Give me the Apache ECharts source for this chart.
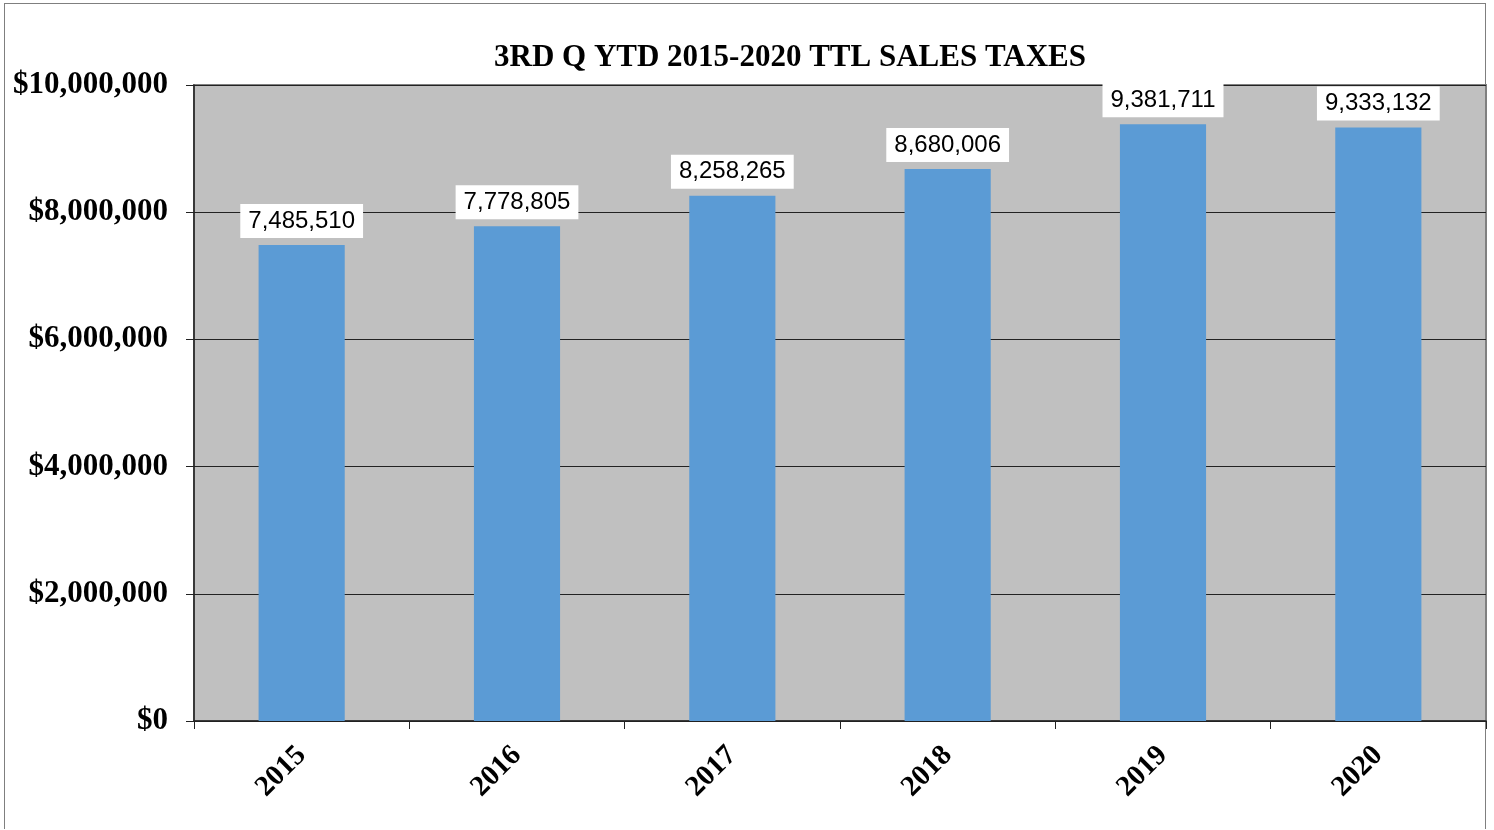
<!DOCTYPE html>
<html>
<head>
<meta charset="utf-8">
<script src="https://cdn.jsdelivr.net/npm/echarts@6/dist/echarts.min.js"></script>
<style>
  html, body { margin: 0; padding: 0; background: #fff; }
  #frame { position: absolute; left: 4px; top: 3px; width: 1482px; height: 826px; border: 1px solid #7f7f7f; border-bottom: none; box-sizing: border-box; }
  #chart { position: absolute; left: 0; top: 0; width: 1494px; height: 830px; }
</style>
</head>
<body>
<div id="frame"></div>
<div id="chart"></div>
<script>
// 3rd quarter YTD total sales taxes, 2015-2020
const years = ["2015", "2016", "2017", "2018", "2019", "2020"];
const taxes = [7485510, 7778805, 8258265, 8680006, 9381711, 9333132];
const yTicks = { min: 0, max: 10000000, step: 2000000 };

const serif = "'Liberation Serif', 'DejaVu Serif', serif";
const money = (v) => "$" + v.toLocaleString("en-US");

const chart = echarts.init(document.getElementById("chart"));
chart.setOption({
  animation: false,
  title: {
    text: "3RD Q YTD 2015-2020 TTL SALES TAXES",
    left: 785, top: 37, textAlign: "center",
    textStyle: { fontFamily: serif, fontWeight: "bold", fontSize: 31, color: "#000" },
  },
  grid: {
    left: 194, right: 8, top: 85, bottom: 109,
    show: true, backgroundColor: "#c0c0c0", borderColor: "#808080", borderWidth: 2,
  },
  xAxis: {
    type: "category", data: years,
    axisLine: { lineStyle: { color: "#222", width: 1.5 } },
    axisTick: { show: true, length: 8, lineStyle: { color: "#222" } },
    axisLabel: { rotate: 45, margin: 30, fontFamily: serif, fontWeight: "bold", fontSize: 29, color: "#000" },
  },
  yAxis: {
    type: "value", min: yTicks.min, max: yTicks.max, interval: yTicks.step,
    axisLine: { show: true, lineStyle: { color: "#222", width: 1.5 } },
    axisTick: { show: true, length: 8, lineStyle: { color: "#222" } },
    axisLabel: { margin: 26, formatter: money, fontFamily: serif, fontWeight: "bold", fontSize: 31, color: "#000" },
    splitLine: { lineStyle: { color: "#222", width: 1 } },
  },
  series: [{
    type: "bar", data: taxes, barWidth: "40%",
    itemStyle: { color: "#5b9bd5" },
    label: {
      show: true, position: "top", distance: 7,
      formatter: (p) => p.value.toLocaleString("en-US"),
      fontFamily: "'Liberation Sans', Arial, sans-serif", fontSize: 24, color: "#000",
      backgroundColor: "#fff", padding: [5, 8, 5, 8],
    },
  }],
});
</script>
</body>
</html>
